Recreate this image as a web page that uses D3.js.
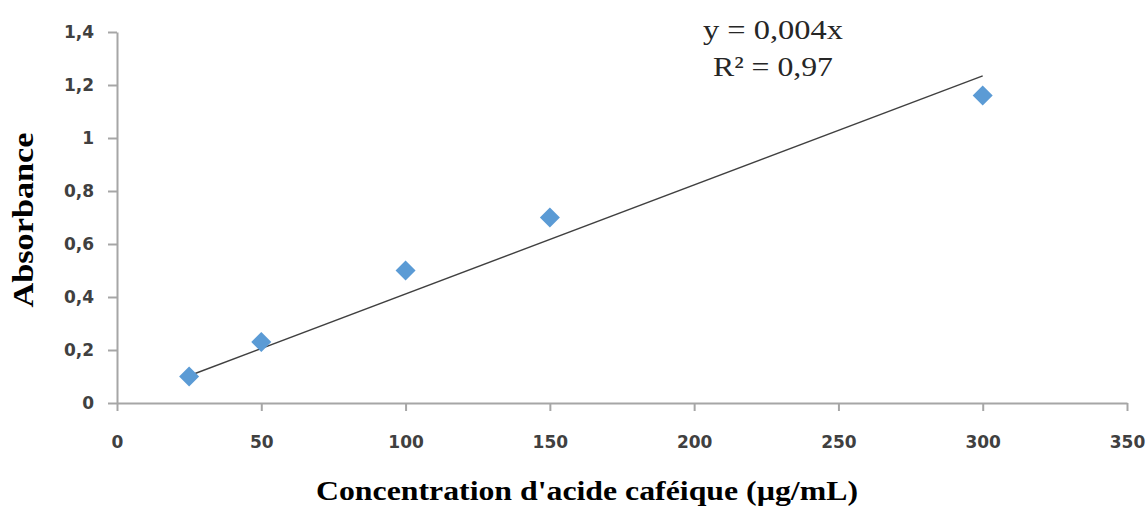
<!DOCTYPE html>
<html>
<head>
<meta charset="utf-8">
<script src="https://cdn.jsdelivr.net/npm/d3@7"></script>
<style>
  body { margin: 0; background: #fff; }
  svg { display: block; }
</style>
</head>
<body>
<div id="chart"></div>
<script>
// concentration (µg/mL) and absorbance
var conc = [25, 50, 100, 150, 300];
var absorb = [0.1, 0.23, 0.5, 0.7, 1.16];
var xTicks = [0, 50, 100, 150, 200, 250, 300, 350];
var yTicks = [0, 0.2, 0.4, 0.6, 0.8, 1, 1.2, 1.4];
var eqLines = ["y = 0,004x", "R\u00b2 = 0,97"];

var width = 1147, height = 506;
var plot = {left: 117, right: 1127, top: 32, bottom: 403};

var svg = d3.select("#chart").append("svg")
  .attr("width", width).attr("height", height);

var x = d3.scaleLinear().domain([0, 350]).range([plot.left, plot.right]);
var y = d3.scaleLinear().domain([0, 1.4]).range([plot.bottom, plot.top]);

var fmt = function(d) { return String(d).replace(".", ","); };

// axes
var gy = svg.append("g")
  .attr("transform", "translate(" + plot.left + ",0)")
  .call(d3.axisLeft(y).tickValues(yTicks).tickSize(9).tickSizeOuter(0)
    .tickPadding(14).tickFormat(fmt));

var gx = svg.append("g")
  .attr("transform", "translate(0," + plot.bottom + ")")
  .call(d3.axisBottom(x).tickValues(xTicks).tickSize(8).tickSizeOuter(0)
    .tickPadding(25).tickFormat(fmt));

[gx, gy].forEach(function(g) {
  g.selectAll("path, line").attr("stroke", "#a6a6a6").attr("stroke-width", 2);
  g.selectAll("text")
    .attr("font-family", "DejaVu Sans")
    .attr("font-weight", "bold")
    .attr("font-size", 17)
    .attr("fill", "#404040");
});

// linear trendline through the origin (least squares)
var sxy = d3.sum(conc, function(c, i) { return c * absorb[i]; });
var sxx = d3.sum(conc, function(c) { return c * c; });
var slope = sxy / sxx;
var xr = d3.extent(conc);

svg.append("line")
  .attr("x1", x(xr[0])).attr("y1", y(slope * xr[0]))
  .attr("x2", x(xr[1])).attr("y2", y(slope * xr[1]))
  .attr("stroke", "#404040").attr("stroke-width", 1.4);

// diamond markers
var diamond = d3.symbol().type(d3.symbolSquare).size(200);
svg.selectAll(".pt")
  .data(conc).enter().append("path")
    .attr("class", "pt")
    .attr("d", diamond)
    .attr("transform", function(d, i) {
      return "translate(" + x(d) + "," + y(absorb[i]) + ") rotate(45)";
    })
    .attr("fill", "#5b9bd5");

// equation label
svg.append("g").selectAll("text")
  .data(eqLines).enter().append("text")
    .attr("x", 773)
    .attr("y", function(d, i) { return 39 + i * 37; })
    .attr("text-anchor", "middle")
    .attr("font-family", "Liberation Serif")
    .attr("font-size", 28)
    .attr("textLength", function(d, i) { return i === 0 ? 140 : 120; })
    .attr("lengthAdjust", "spacingAndGlyphs")
    .attr("fill", "#262626")
    .text(function(d) { return d; });

// axis titles
svg.append("text")
  .attr("transform", "translate(33,220) rotate(-90)")
  .attr("text-anchor", "middle")
  .attr("font-family", "Liberation Serif")
  .attr("font-weight", "bold")
  .attr("font-size", 29)
  .attr("textLength", 175)
  .attr("lengthAdjust", "spacingAndGlyphs")
  .attr("fill", "#000")
  .text("Absorbance");

svg.append("text")
  .attr("x", 587).attr("y", 500)
  .attr("text-anchor", "middle")
  .attr("font-family", "Liberation Serif")
  .attr("font-weight", "bold")
  .attr("font-size", 27)
  .attr("textLength", 542)
  .attr("lengthAdjust", "spacingAndGlyphs")
  .attr("fill", "#000")
  .text("Concentration d'acide caf\u00e9ique (\u00b5g/mL)");
</script>
</body>
</html>
